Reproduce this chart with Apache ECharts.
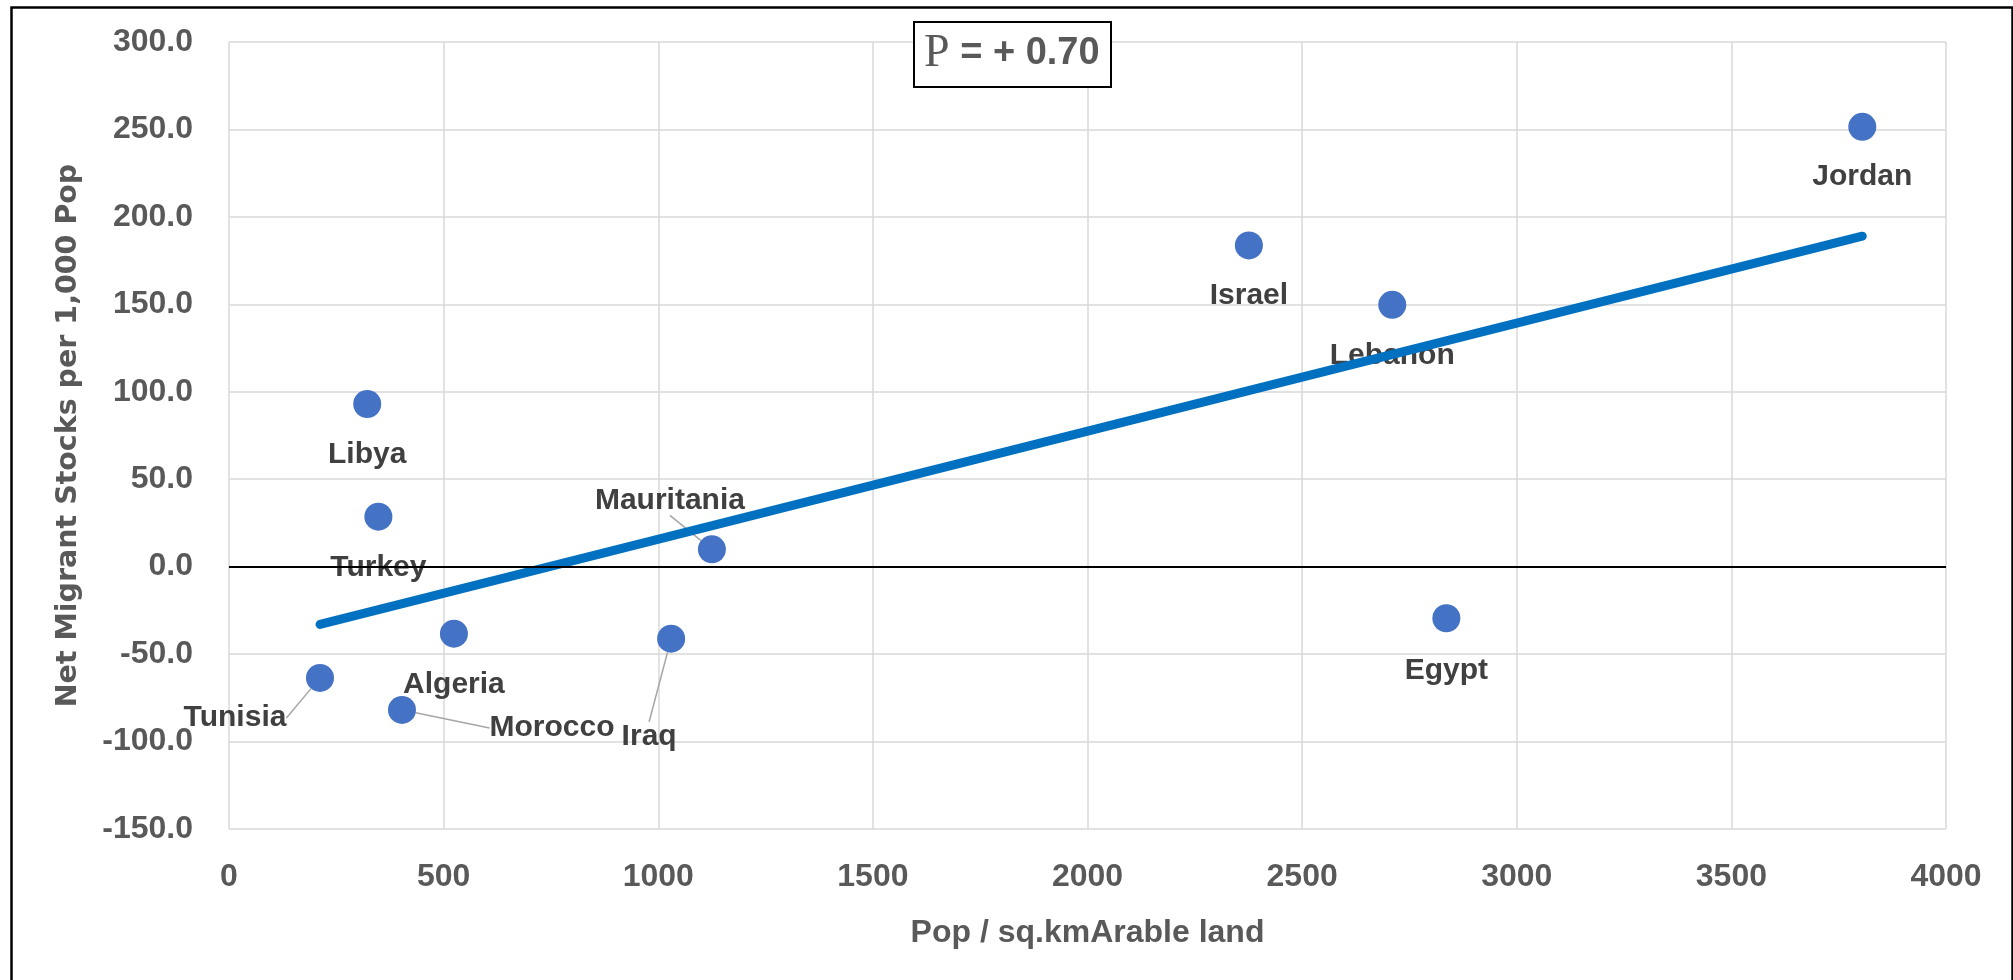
<!DOCTYPE html>
<html><head><meta charset="utf-8">
<script src="https://cdn.jsdelivr.net/npm/echarts/dist/echarts.min.js"></script>
<style>html,body{margin:0;padding:0;background:#fff}#c{width:2013px;height:980px}</style>
</head><body><div id="c"></div>
<script>
// ---- data ----
const countries   = ['Libya','Turkey','Mauritania','Algeria','Iraq','Tunisia','Morocco','Jordan','Israel','Lebanon','Egypt'];
const popDensity  = [322, 348, 1125, 524, 1030, 212, 403, 3805, 2376, 2710, 2836];
const netMigrants = [93.0, 28.6, 9.9, -38.3, -41.2, -63.6, -81.9, 251.5, 183.7, 149.7, -29.5];
const xAxisTitle = 'Pop / sq.kmArable land';
const yAxisTitle = 'Net Migrant Stocks per 1,000 Pop';
const corrText = ' = + 0.70';

// ---- label placement (style, not data) ----
const labelOffsets = {
  Libya:[0,51], Turkey:[0,51], Mauritania:[-42,-49], Algeria:[0,51], Iraq:[-22,98],
  Tunisia:[-85,40], Morocco:[150,18], Jordan:[0,50], Israel:[0,50], Lebanon:[0,51], Egypt:[0,52]
};
const leaderLabels = ['Mauritania','Iraq','Tunisia','Morocco'];

// linear regression trendline from the data
const n = popDensity.length;
const mx = popDensity.reduce((a,b)=>a+b,0)/n;
const my = netMigrants.reduce((a,b)=>a+b,0)/n;
let sxy=0, sxx=0;
for (let i=0;i<n;i++){ sxy += (popDensity[i]-mx)*(netMigrants[i]-my); sxx += (popDensity[i]-mx)**2; }
const slope = sxy/sxx, icpt = my - slope*mx;
const xmin = Math.min(...popDensity), xmax = Math.max(...popDensity);
const trend = [[xmin, icpt+slope*xmin],[xmax, icpt+slope*xmax]];

const points = countries.map((c,i)=>({
  name:c, value:[popDensity[i], netMigrants[i]],
  labelLine:{show: leaderLabels.includes(c)}
}));

const chart = echarts.init(document.getElementById('c'), null, {renderer:'canvas'});
const tickFont = {fontFamily:'Liberation Sans', fontWeight:'bold', fontSize:32, color:'#595959'};
chart.setOption({
  animation:false,
  backgroundColor:'#fff',
  grid:{left:229, right:67, top:42, bottom:151},
  xAxis:{
    type:'value', min:0, max:4000, interval:500,
    name:xAxisTitle, nameLocation:'middle', nameGap:88,
    nameTextStyle:{fontFamily:'Liberation Sans', fontWeight:'bold', fontSize:32, color:'#595959'},
    axisLine:{show:false}, axisTick:{show:false},
    axisLabel:Object.assign({margin:32, formatter:v=>String(v)}, tickFont),
    splitLine:{show:true, lineStyle:{color:'#d9d9d9', width:1.5}}
  },
  yAxis:{
    type:'value', min:-150, max:300, interval:50,
    name:yAxisTitle, nameLocation:'middle', nameGap:146, nameRotate:90,
    nameTextStyle:{fontFamily:'DejaVu Sans', fontWeight:'bold', fontSize:28.5, color:'#595959'},
    axisLine:{show:false}, axisTick:{show:false},
    axisLabel:Object.assign({margin:36, formatter:v=>v.toFixed(1)}, tickFont),
    splitLine:{show:true, lineStyle:{color:'#d9d9d9', width:1.5}}
  },
  series:[
    {
      type:'scatter', z:2, symbolSize:28,
      itemStyle:{color:'#4472C4', opacity:1},
      data:points,
      label:{show:true, position:'inside', formatter:p=>p.name,
        fontFamily:'Liberation Sans', fontWeight:'bold', fontSize:30, color:'#404040'},
      labelLine:{show:false, lineStyle:{color:'#a6a6a6', width:1.5}},
      labelLayout:function(p){
        const o = labelOffsets[countries[p.dataIndex]];
        return {dx:o[0], dy:o[1]};
      },
      markLine:{silent:true, symbol:'none', label:{show:false},
        lineStyle:{color:'#000', width:2, type:'solid'}, data:[{yAxis:0}]}
    },
    {
      type:'line', z:3, data:trend, showSymbol:false, symbol:'none',
      lineStyle:{color:'#0070C0', width:9, cap:'round'}
    }
  ],
  graphic:[
    {type:'rect', left:9, top:5, shape:{width:2001, height:1000},
     style:{fill:'none', stroke:'#000', lineWidth:2.5}, z:0},
    {type:'rect', left:913, top:21, shape:{width:197, height:65},
     style:{fill:'#fff', stroke:'#000', lineWidth:2}, z:10},
    {type:'text', left:924, top:31, z:11,
     style:{text:'{p|P}{r|'+corrText+'}',
       rich:{p:{fontFamily:'Liberation Serif', fontSize:46, fill:'#595959'},
             r:{fontFamily:'Liberation Sans', fontWeight:'bold', fontSize:38, fill:'#595959'}}}}
  ]
});
</script></body></html>
